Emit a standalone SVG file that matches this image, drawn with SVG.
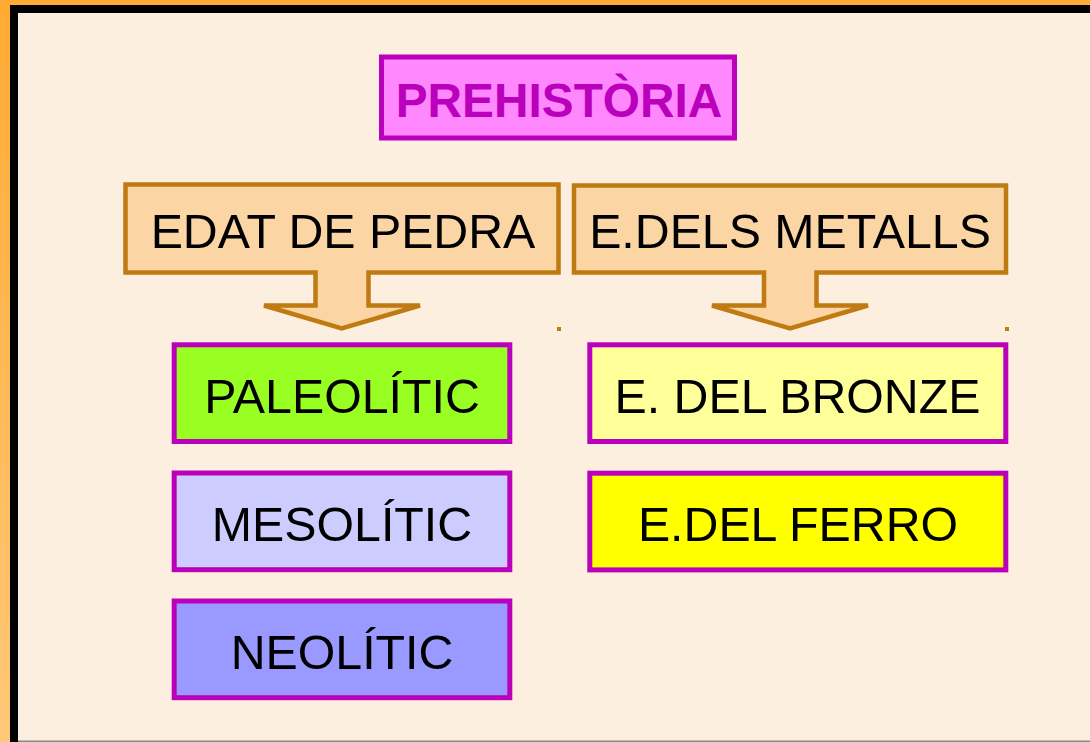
<svg xmlns="http://www.w3.org/2000/svg" width="1090" height="742" viewBox="0 0 1090 742">
<defs>
<linearGradient id="og" x1="0" y1="0" x2="0" y2="1">
<stop offset="0" stop-color="#FFAA33"/>
<stop offset="1" stop-color="#FFC878"/>
</linearGradient>
<style>
.lbl{font-family:"Liberation Sans",Arial,sans-serif;font-size:48.3px;fill:#000;text-anchor:middle}
.title{font-family:"Liberation Sans",Arial,sans-serif;font-size:47.8px;font-weight:bold;fill:#BB00BB;text-anchor:middle}
.box{stroke:#BB00BB;stroke-width:5}
.arrow{fill:#FBD5A3;stroke:#BF7A12;stroke-width:4.5;stroke-linejoin:miter}
</style>
</defs>
<rect x="0" y="0" width="1090" height="742" fill="url(#og)"/>
<rect x="10" y="5" width="1080" height="737" fill="#000"/>
<rect x="18" y="13" width="1072" height="728" fill="#FDEFDF"/>
<rect x="18" y="740.5" width="1072" height="1.5" fill="#888"/>

<g id="prehistoria">
<rect class="box" x="381.5" y="57" width="353" height="81" fill="#FF88FF" stroke-width="4.5"/>
<text class="title" x="559" y="116.7">PREHISTÒRIA</text>
</g>

<g id="edat-de-pedra">
<path class="arrow" d="M125.5,184.5 H558.5 V272.5 H368.5 V305.5 H420 L341.7,328.5 L264,305.5 H315.5 V272.5 H125.5 Z"/>
<text class="lbl" x="343" y="248.3">EDAT DE PEDRA</text>
</g>

<g id="edats-metalls">
<path class="arrow" d="M574,185.5 H1006 V272.5 H816.5 V305.5 H868 L790,328.5 L712,305.5 H764 V272.5 H574 Z"/>
<text class="lbl" x="790" y="248.3">E.DELS METALLS</text>
</g>

<g id="dots">
<rect x="557" y="327" width="4" height="4" fill="#BF7A12"/>
<rect x="1005" y="327" width="4" height="4" fill="#BF7A12"/>
</g>

<g id="paleolitic">
<rect class="box" x="174.2" y="344.8" width="335.6" height="96.7" fill="#99FF22"/>
<text class="lbl" x="342" y="413.3">PALEOLÍTIC</text>
</g>
<g id="mesolitic">
<rect class="box" x="174.2" y="473" width="335.6" height="96.7" fill="#CCCCFF"/>
<text class="lbl" x="342" y="541.3">MESOLÍTIC</text>
</g>
<g id="neolitic">
<rect class="box" x="174.2" y="601" width="335.6" height="96.7" fill="#9999FF"/>
<text class="lbl" x="342" y="669.3">NEOLÍTIC</text>
</g>
<g id="bronze">
<rect class="box" x="589.8" y="344.8" width="416" height="96.7" fill="#FFFF99"/>
<text class="lbl" x="797.5" y="413.3">E. DEL BRONZE</text>
</g>
<g id="ferro">
<rect class="box" x="589.8" y="473.2" width="416" height="96.7" fill="#FFFF00"/>
<text class="lbl" x="798" y="540.5">E.DEL FERRO</text>
</g>
<g id="connectors"></g>
</svg>
